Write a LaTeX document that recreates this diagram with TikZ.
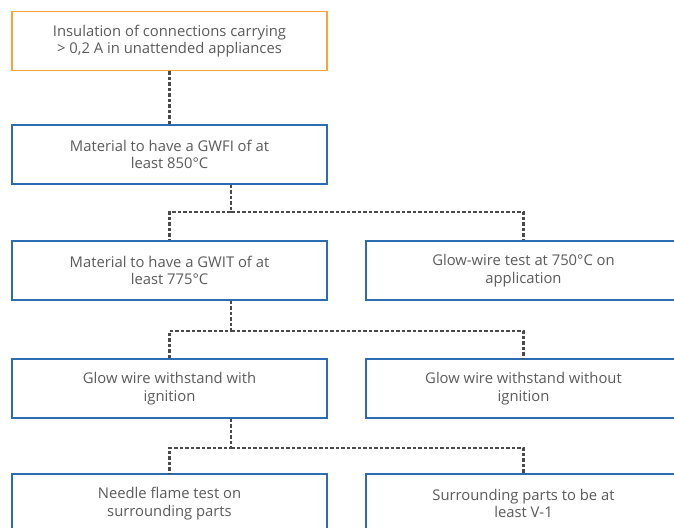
\documentclass[tikz,border=0pt]{standalone}
\usepackage{fontspec}
\setmainfont{Open Sans}
\usepackage{tikz}
\usetikzlibrary{positioning, calc}
\usepackage{xcolor}
\definecolor{gwtorange}{HTML}{F9A533}
\definecolor{gwtblue}{HTML}{2B6CB3}
\definecolor{gwttext}{HTML}{5A5A5A}
\definecolor{gwtdash}{HTML}{4A4A4A}

\begin{document}
\begin{tikzpicture}[x=1pt, y=-1pt,
  box/.style={draw=gwtblue, line width=1.6pt, minimum width=315pt,
    minimum height=59pt, align=center, text=gwttext,
    font=\fontsize{14.8}{17.5}\selectfont, inner sep=0pt},
  startbox/.style={box, draw=gwtorange},
  conn/.style={gwtdash, line width=2.2pt, dash pattern=on 3.5pt off 2pt}]
  \useasboundingbox (0,0) rectangle (674,527);

  % Boxes
  \node[startbox] (ins) at (169.5,41)
    {Insulation of connections carrying\\> 0,2 A in unattended appliances};
  \node[box] (gwfi) at (169.5,154.5) {Material to have a GWFI of at\\least 850°C};
  \node[box] (gwit) at (169.5,270.5) {Material to have a GWIT of at\\least 775°C};
  \node[box] (gwtest) at (523.5,270.5) {Glow-wire test at 750°C on\\application};
  \node[box] (withign) at (169.5,388.5) {Glow wire withstand with\\ignition};
  \node[box] (noign) at (523.5,388.5) {Glow wire withstand without\\ignition};
  \node[box] (needle) at (169.5,503.5) {Needle flame test on\\surrounding parts};
  \node[box] (vone) at (523.5,503.5) {Surrounding parts to be at\\least V-1};

  % Junctions
  \coordinate (j1) at (231,212);
  \coordinate (j2) at (231,331);
  \coordinate (j3) at (231,448);

  % Connectors
  \draw[conn] (ins) -- (gwfi);
  \draw[conn] (j1 |- gwfi.south) -- (j1) -| (gwit.north);
  \draw[conn] (j1) -| (gwtest.north);
  \draw[conn] (j2 |- gwit.south) -- (j2) -| (withign.north);
  \draw[conn] (j2) -| (noign.north);
  \draw[conn] (j3 |- withign.south) -- (j3) -| (needle.north);
  \draw[conn] (j3) -| (vone.north);
\end{tikzpicture}
\end{document}
